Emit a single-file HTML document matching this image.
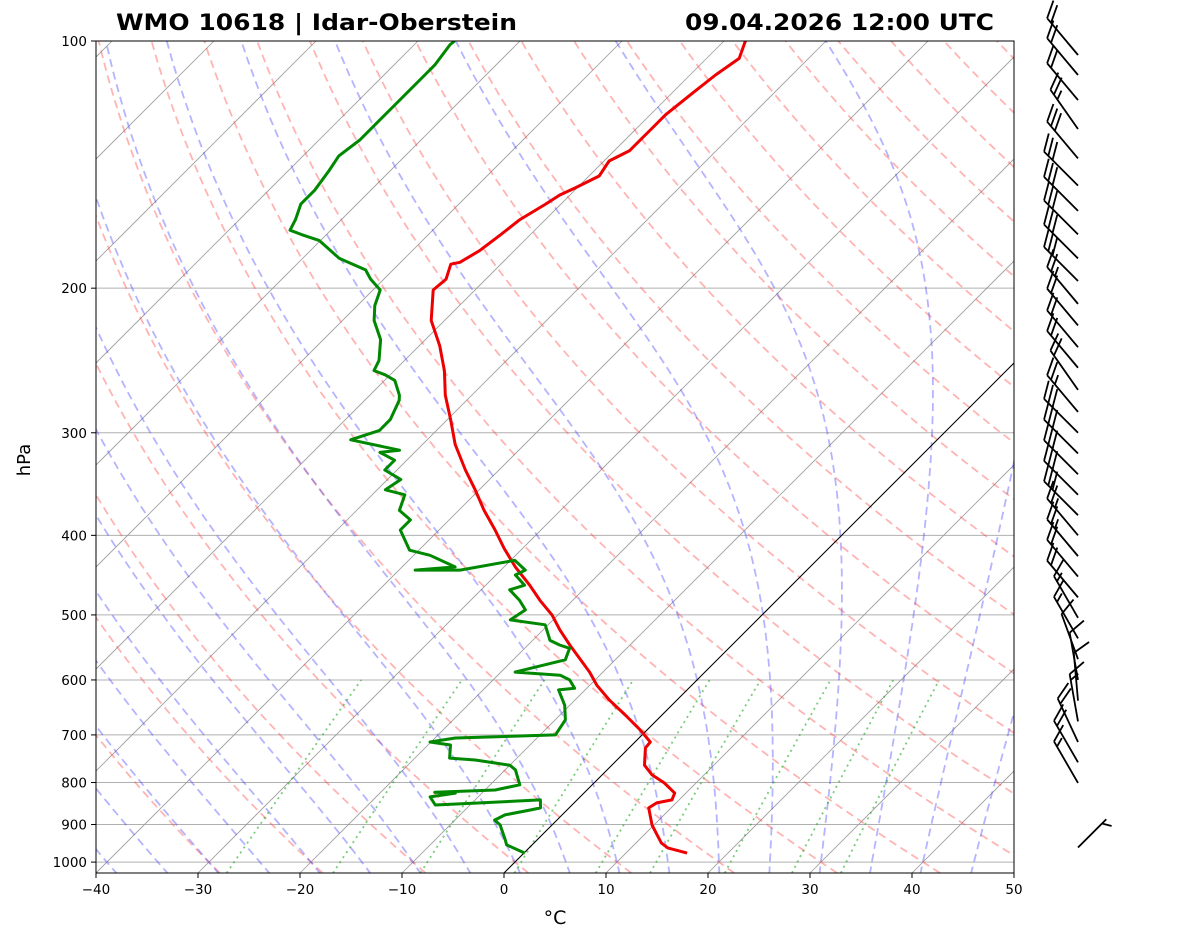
<!DOCTYPE html>
<html><head><meta charset="utf-8">
<style>
body{margin:0;background:#fff;}
svg{display:block;font-family:"DejaVu Sans","Liberation Sans",sans-serif;}
</style></head>
<body>
<svg id="chart" width="1181" height="941" viewBox="0 0 1181 941" xmlns="http://www.w3.org/2000/svg">
<defs><clipPath id="clip"><rect x="96" y="41" width="918" height="832"/></clipPath></defs>
<rect x="0" y="0" width="1181" height="941" fill="#fff"/>
<g id="bg" clip-path="url(#clip)"></g>
<g id="data" clip-path="url(#clip)"></g>
<rect x="96" y="41" width="918" height="832" fill="none" stroke="#000" stroke-width="1"/>
<g id="axes"></g>
<g id="barbs"></g>
<text x="116" y="30" font-size="22" font-weight="bold" textLength="401" lengthAdjust="spacingAndGlyphs">WMO 10618 | Idar-Oberstein</text>
<text x="685" y="30" font-size="22" font-weight="bold" textLength="309" lengthAdjust="spacingAndGlyphs">09.04.2026 12:00 UTC</text>
<text x="30" y="460" font-size="18" text-anchor="middle" transform="rotate(-90 30 460)">hPa</text>
<text x="555" y="924" font-size="19" text-anchor="middle">°C</text>
</svg>
<script>
const tempP=[975,961,948,927,901,859,847,840,824,801,783,762,726,714,690,662,635,609,587,567,544,522,500,480,460,437,415,394,373,352,333,310,289,270,252,235,219,201,195,187,186,180,172,165,158,154,151,146,140,136,128,123,116,110,105,100];
const tempT=[16.0,13.6,12.5,11.3,9.8,7.8,8.1,9.3,8.9,6.9,4.9,3.2,1.6,1.5,-0.7,-3.6,-6.6,-9.3,-11.3,-13.4,-15.9,-18.3,-20.6,-23.2,-25.7,-28.9,-31.8,-34.5,-37.5,-40.4,-43.3,-46.8,-49.7,-52.6,-55.1,-58.0,-61.3,-64.1,-63.9,-64.9,-64.2,-63.4,-62.9,-62.5,-61.5,-61.0,-60.2,-59.0,-59.5,-58.5,-58.5,-58.5,-58.0,-57.5,-56.8,-57.9];
const dewP=[975,953,940,901,889,876,864,859,840,847,852,833,824,822,817,805,772,762,751,747,720,714,706,700,671,644,617,614,600,592,587,567,549,544,537,514,507,493,480,466,460,447,441,429,441,441,437,423,417,394,383,373,357,352,342,333,324,317,315,306,298,289,274,270,259,255,252,245,231,219,210,201,195,190,184,175,172,170,165,158,152,144,138,132,127,120,115,110,107,101,100];
const dewT=[0.1,-2.5,-3.1,-5.1,-6.1,-5.6,-3.6,-2.8,-3.6,-9.2,-13.4,-14.7,-12.6,-14.7,-9.0,-7.1,-9.0,-10.0,-13.9,-16.6,-17.8,-20.1,-18.0,-8.5,-9.0,-10.5,-12.6,-11.2,-12.5,-13.9,-18.6,-14.9,-15.6,-16.9,-18.3,-20.3,-24.2,-23.7,-25.2,-27.2,-26.2,-28.1,-27.6,-29.6,-34.0,-38.4,-34.8,-38.4,-40.9,-43.8,-43.8,-45.8,-46.8,-49.2,-48.7,-51.2,-51.2,-53.4,-51.7,-57.5,-55.6,-55.6,-56.6,-57.1,-59.0,-60.5,-62.0,-62.5,-64.4,-66.9,-68.3,-69.3,-71.3,-72.7,-76.4,-80.1,-82.5,-84.0,-84.5,-85.5,-85.5,-86.0,-86.5,-86.0,-86.0,-86.0,-86.0,-86.0,-86.0,-86.5,-86.4];
const windP=[104,110,118,128,139,150,161,172,184,196,209,222,236,250,266,283,300,318,337,357,378,400,424,449,476,504,534,566,600,636,674,714,756,801,960];
const windSpd=[20,20,20,25,30,30,30,30,30,30,25,20,20,20,20,25,30,30,30,30,30,25,25,20,20,15,15,10,10,10,15,20,20,15,5];
const windDir=[320,320,320,325,320,315,315,315,315,315,320,320,320,320,325,320,315,315,315,315,315,320,320,320,320,330,330,340,350,355,350,335,330,330,45];
const pTicks=[100,200,300,400,500,600,700,800,900,1000];
const tTicks=[-40,-30,-20,-10,0,10,20,30,40,50];

const X0=96,X1=1014,Y0=41,Y1=873,K=356.6,S=10.2;
const NS='http://www.w3.org/2000/svg';
function yP(p){return Y0+K*Math.log(p/100);}
function xT(t,p){const y=yP(p);return X0+(t+40)*S+(Y1-y);}
function mk(tag,attrs,parent){const e=document.createElementNS(NS,tag);for(const k in attrs)e.setAttribute(k,attrs[k]);parent.appendChild(e);return e;}
const bg=document.getElementById('bg'),dg=document.getElementById('data'),ax=document.getElementById('axes'),bb=document.getElementById('barbs');
const pBot=100*Math.exp((Y1-Y0)/K);
function ptsStr(ps,ts){return ps.map((p,i)=>xT(ts[i],p).toFixed(1)+','+yP(p).toFixed(1)).join(' ');}
function levels(a,b,n){const r=[];for(let i=0;i<=n;i++)r.push(a*Math.pow(b/a,i/n));return r;}

pTicks.forEach(p=>{
  const l=mk('line',{x1:X0,x2:X1,y1:yP(p),y2:yP(p),stroke:'#b0b0b0','stroke-width':1},bg);
  
  
});
for(let t=-150;t<=50;t+=10){
  const l=mk('line',{x1:xT(t,pBot),y1:Y1,x2:xT(t,100),y2:Y0,stroke:'#999','stroke-width':0.8},bg);
  
  
}
const LP=levels(pBot,100,60);
for(let t0=-30;t0<=200;t0+=10){
  const th=t0+273.15;
  const ts=LP.map(p=>th*Math.pow(p/1000,0.2857)-273.15);
  const l=mk('polyline',{points:ptsStr(LP,ts),fill:'none',stroke:'#f44','stroke-opacity':0.4,'stroke-width':1.8,'stroke-dasharray':'8,5'},bg);
  
  
}
function es(T){return 6.112*Math.exp(17.67*T/(T+243.5));}
function dTdp(p,Tk){const Rd=287.04,Cp=1005.7,Lv=2.501e6,eps=0.622;const rs=eps*es(Tk-273.15)/(p-es(Tk-273.15));
  return (Rd*Tk+Lv*rs)/(Cp+Lv*Lv*rs*eps/(Rd*Tk*Tk))/p;}
function moist(t0){
  const up=[],down=[];let T=t0+273.15,p=1000,dp=-5;
  up.push([p,T]);while(p>100){T+=dTdp(p,T)*dp;p+=dp;up.push([p,T]);}
  T=t0+273.15;p=1000;while(p<pBot){T+=dTdp(p,T)*5;p+=5;down.push([p,T]);}
  const all=down.reverse().concat(up);
  return [all.map(a=>a[0]),all.map(a=>a[1]-273.15)];
}
for(let t0=-50;t0<=50;t0+=5){
  const m=moist(t0);
  const l=mk('polyline',{points:ptsStr(m[0],m[1]),fill:'none',stroke:'#44f','stroke-opacity':0.4,'stroke-width':1.8,'stroke-dasharray':'8,5'},bg);
  
  
}
[0.0004,0.001,0.002,0.004,0.007,0.01,0.016,0.024,0.032].forEach(w=>{
  const ps=levels(pBot,600,30);
  const ts=ps.map(p=>{const e=w*p/(0.622+w);const l=Math.log(e/6.112);return 243.5*l/(17.67-l);});
  const l=mk('polyline',{points:ptsStr(ps,ts),fill:'none',stroke:'#2a2','stroke-opacity':0.6,'stroke-width':1.8,'stroke-dasharray':'2,4'},bg);
  
  
});
const z=mk('line',{x1:xT(0,pBot),y1:Y1,x2:xT(0,100),y2:Y0,stroke:'#000','stroke-width':1},bg);


const tl=mk('polyline',{points:ptsStr(tempP,tempT),fill:'none',stroke:'#e00','stroke-width':3,'stroke-linejoin':'round'},dg);


const dl=mk('polyline',{points:ptsStr(dewP,dewT),fill:'none',stroke:'#080','stroke-width':3,'stroke-linejoin':'round'},dg);


pTicks.forEach(p=>{
  const y=yP(p);
  mk('line',{x1:X0-5,x2:X0,y1:y,y2:y,stroke:'#000'},ax);
  const t=mk('text',{x:X0-9,y:y+5,'font-size':13.5,'text-anchor':'end'},ax);
  t.textContent=p;
  
  
});
tTicks.forEach(v=>{
  const x=X0+(v+40)*S;
  mk('line',{x1:x,x2:x,y1:Y1,y2:Y1+5,stroke:'#000'},ax);
  const t=mk('text',{x:x,y:Y1+21,'font-size':13.5,'text-anchor':'middle'},ax);
  t.textContent=v<0?'\u2212'+(-v):v;
  
  
});
const BX=1078,L=48;
windP.forEach((p,i)=>{
  const y=yP(p),d=windDir[i]*Math.PI/180;
  const bx0=windSpd[i]<10?1078:BX;
  const ux=Math.sin(d),uy=-Math.cos(d);
  const len=windSpd[i]<10?40:L;
  const tx=bx0+ux*len,ty=y+uy*len;
  const g=mk('g',{stroke:'#000','stroke-width':1.8,fill:'none'},bb);
  
  
  mk('line',{x1:bx0,y1:y,x2:tx,y2:ty},g);
  const px=-uy,py=ux;
  const fx=px*0.85+ux*0.5,fy=py*0.85+uy*0.5;
  let s=windSpd[i],k=0;
  while(s>=10){const bx=tx-ux*k*6,by=ty-uy*k*6;mk('line',{x1:bx,y1:by,x2:bx+fx*19,y2:by+fy*19},g);s-=10;k++;}
  if(s>=5){if(k===0)k=1;const bx=tx-ux*k*6,by=ty-uy*k*6;mk('line',{x1:bx,y1:by,x2:bx+fx*10,y2:by+fy*10},g);}
});
</script>
</body></html>
